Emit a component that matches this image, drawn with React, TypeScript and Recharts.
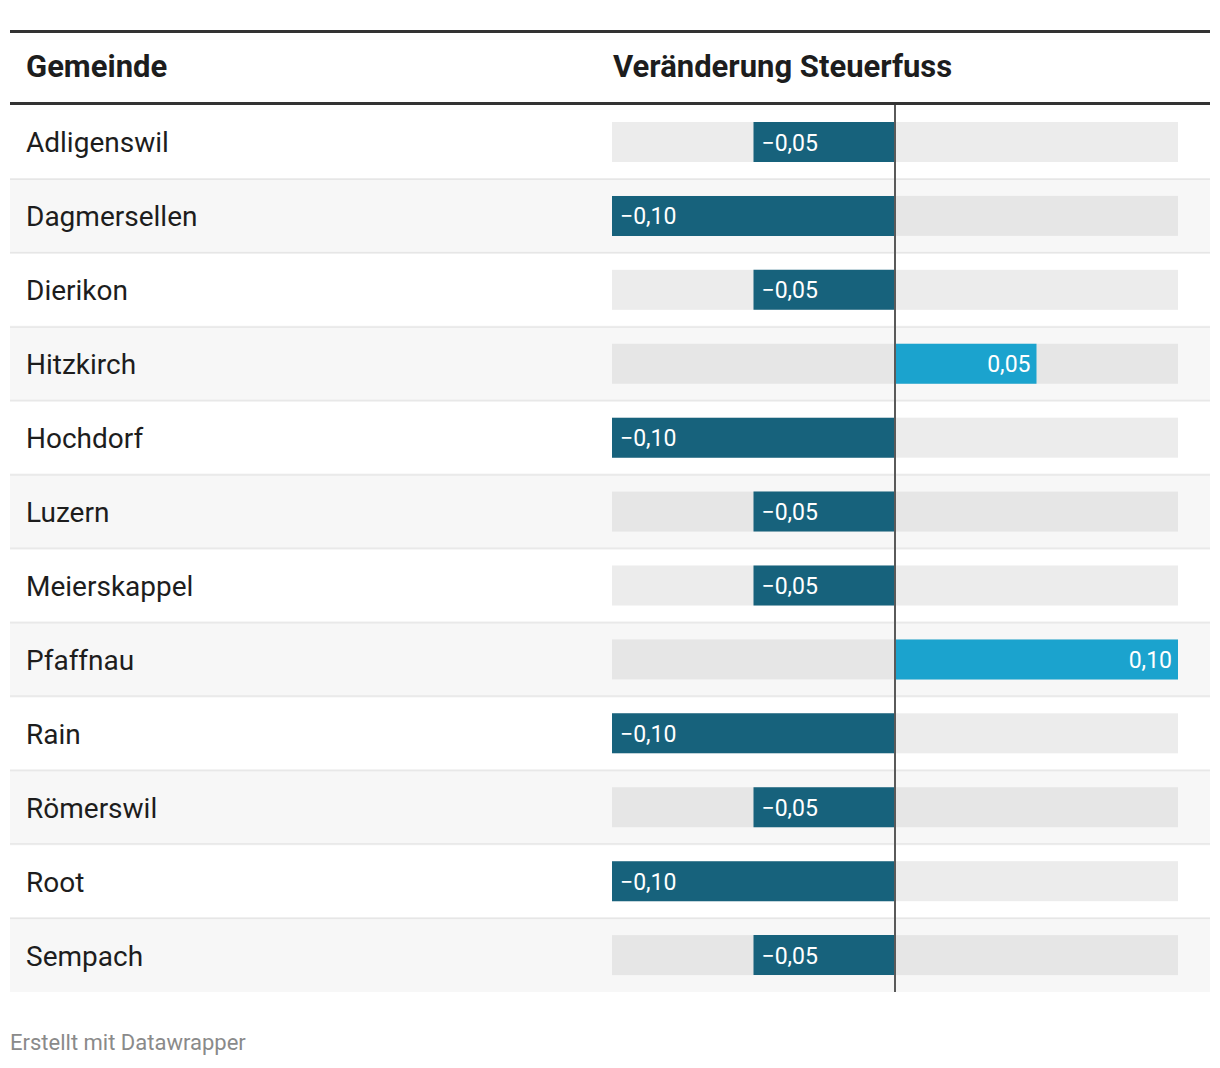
import React from "react";
import { BarChart, Bar, XAxis, YAxis, ReferenceLine, LabelList, Cell } from "recharts";

const gemeinden = [
  "Adligenswil", "Dagmersellen", "Dierikon", "Hitzkirch", "Hochdorf", "Luzern",
  "Meierskappel", "Pfaffnau", "Rain", "Römerswil", "Root", "Sempach",
];
const veraenderung = [-0.05, -0.1, -0.05, 0.05, -0.1, -0.05, -0.05, 0.1, -0.1, -0.05, -0.1, -0.05];
const domain = [-0.1, 0.1];

const rows = gemeinden.map((name, i) => ({ name, value: veraenderung[i] }));

const CHART_W = 1200;
const CHART_H = 887;
const LABEL_W = 602;
const ROW_H = CHART_H / rows.length;
const FONT = "Roboto, 'Noto Sans', sans-serif";

const fmt = (v: number) => (v < 0 ? "\u2212" : "") + Math.abs(v).toFixed(2).replace(".", ",");

// row stripe + separator + grey track, drawn as the bar background
const RowBackground = (props: any) => {
  const { x, y, width, height, index } = props;
  const mid = y + height / 2;
  const top = mid - ROW_H / 2;
  const odd = index % 2 === 1;
  return (
    <g>
      {odd && <rect x={0} y={top} width={CHART_W} height={ROW_H} fill="rgba(0,0,0,0.03)" />}
      {index > 0 && <rect x={0} y={top - 1} width={CHART_W} height={2} fill="rgba(0,0,0,0.07)" />}
      <rect x={x} y={y} width={width} height={height} fill={odd ? "#e6e6e6" : "#ececec"} />
    </g>
  );
};

const NameTick = (props: any) => {
  const { y, payload } = props;
  return (
    <text x={16} y={y + 1} dominantBaseline="central" fontSize={28} fill="#1d1d1d" fontFamily={FONT}>
      {payload.value}
    </text>
  );
};

const ValueLabel = (props: any) => {
  const { x, y, width, height, value } = props;
  const left = Math.min(x, x + width);
  const right = Math.max(x, x + width);
  const neg = value < 0;
  return (
    <text
      x={neg ? left + 8 : right - 6}
      y={y + height / 2 + 1}
      textAnchor={neg ? "start" : "end"}
      dominantBaseline="central"
      fontSize={23}
      fill="#ffffff"
      fontFamily={FONT}
    >
      {fmt(value)}
    </text>
  );
};

export default function App() {
  return (
    <div style={{ position: "absolute", left: 0, top: 0, width: 1220, height: 1068, background: "#fff", fontFamily: FONT, color: "#1d1d1d" }}>
      <div style={{ position: "absolute", left: 10, top: 30, width: 1200, height: 69, borderTop: "3px solid #333", borderBottom: "3px solid #333", boxSizing: "content-box" }}>
        <div style={{ position: "absolute", left: 16, top: 16, fontSize: 31, fontWeight: 700, lineHeight: "36px" }}>Gemeinde</div>
        <div style={{ position: "absolute", left: 603, top: 16, fontSize: 31, fontWeight: 700, lineHeight: "36px" }}>Veränderung Steuerfuss</div>
      </div>
      <div style={{ position: "absolute", left: 10, top: 105 }}>
        <BarChart
          width={CHART_W}
          height={CHART_H}
          data={rows}
          layout="vertical"
          margin={{ top: 0, right: 32, bottom: 0, left: 0 }}
          barSize={40}
        >
          <XAxis type="number" domain={domain} hide />
          <YAxis type="category" dataKey="name" width={LABEL_W} axisLine={false} tickLine={false} tick={<NameTick />} interval={0} />
          <Bar dataKey="value" background={RowBackground} isAnimationActive={false}>
            {rows.map((r) => (
              <Cell key={r.name} fill={r.value < 0 ? "#17627c" : "#1ba3ce"} />
            ))}
            <LabelList dataKey="value" content={<ValueLabel />} />
          </Bar>
          <ReferenceLine x={0} stroke="#5a5a5a" strokeWidth={2} />
        </BarChart>
      </div>
      <div style={{ position: "absolute", left: 10, top: 1030, fontSize: 22, lineHeight: "26px", color: "#8a8a8a" }}>Erstellt mit Datawrapper</div>
    </div>
  );
}
